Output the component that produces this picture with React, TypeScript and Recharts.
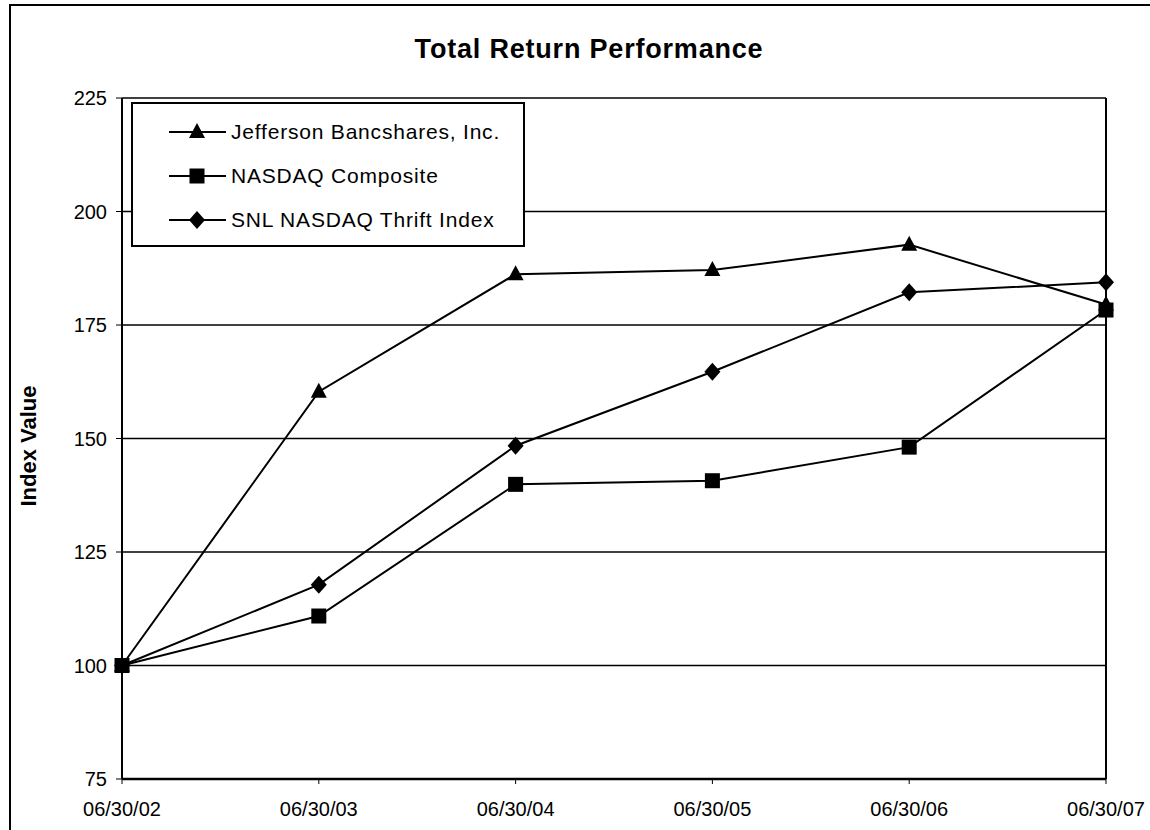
import { CartesianGrid, Line, LineChart, ReferenceLine, XAxis, YAxis } from "recharts";

const dates = ["06/30/02", "06/30/03", "06/30/04", "06/30/05", "06/30/06", "06/30/07"];
const jefferson = [100, 160.3, 186.2, 187.1, 192.7, 179.5];
const nasdaq = [100, 110.9, 139.9, 140.7, 148.1, 178.3];
const snlThrift = [100, 117.8, 148.4, 164.7, 182.2, 184.4];
const yTicks = [75, 100, 125, 150, 175, 200, 225];

const seriesList = [
  { key: "jefferson", name: "Jefferson Bancshares, Inc.", shape: "triangle" },
  { key: "nasdaq", name: "NASDAQ Composite", shape: "square" },
  { key: "snl", name: "SNL NASDAQ Thrift Index", shape: "diamond" },
];

const rows = dates.map((date, i) => ({
  date,
  jefferson: jefferson[i],
  nasdaq: nasdaq[i],
  snl: snlThrift[i],
}));

const FONT = "'Liberation Sans', Arial, sans-serif";

const Marker = ({ shape, cx, cy }: { shape: string; cx: number; cy: number }) => {
  if (shape === "triangle") {
    return <polygon points={`${cx},${cy - 9} ${cx + 8},${cy + 6} ${cx - 8},${cy + 6}`} fill="#000" />;
  }
  if (shape === "square") {
    return <rect x={cx - 7.5} y={cy - 7.5} width={15} height={15} fill="#000" />;
  }
  return <polygon points={`${cx},${cy - 9} ${cx + 8},${cy} ${cx},${cy + 9} ${cx - 8},${cy}`} fill="#000" />;
};

const makeDot = (shape: string) => (props: any) => (
  <Marker key={`${shape}-${props.index}`} shape={shape} cx={props.cx} cy={props.cy} />
);

// legend drawn outside the chart so it does not eat into the plot offset
const LegendBox = () => (
  <div
    style={{
      position: "absolute",
      left: 131,
      top: 102,
      width: 390,
      height: 141,
      border: "2px solid #000",
      background: "#fff",
      fontFamily: FONT,
    }}
  >
    {seriesList.map((s, i) => (
      <div
        key={s.key}
        style={{ position: "absolute", left: 0, top: 28 + i * 44 - 15, height: 30, display: "flex", alignItems: "center" }}
      >
        <svg width={100} height={30} style={{ display: "block" }}>
          <line x1={36} x2={93} y1={15} y2={15} stroke="#000" strokeWidth={2} />
          <Marker shape={s.shape} cx={64} cy={15} />
        </svg>
        <span style={{ fontSize: 21, letterSpacing: 0.8, color: "#000", marginLeft: -2 }}>{s.name}</span>
      </div>
    ))}
  </div>
);

export default function App() {
  return (
    <div style={{ position: "absolute", left: 0, top: 0, width: 1150, height: 830, background: "#fff", overflow: "hidden" }}>
      <div
        style={{
          position: "absolute",
          left: 9,
          top: 4,
          width: 1160,
          height: 840,
          borderLeft: "2px solid #000",
          borderTop: "2px solid #000",
        }}
      />
      <div
        style={{
          position: "absolute",
          left: 289,
          width: 600,
          top: 34,
          textAlign: "center",
          fontFamily: FONT,
          fontWeight: "bold",
          fontSize: 27,
          letterSpacing: 0.8,
          color: "#000",
        }}
      >
        Total Return Performance
      </div>
      <div
        style={{
          position: "absolute",
          left: 29 - 100,
          top: 446 - 14,
          width: 200,
          height: 28,
          lineHeight: "28px",
          textAlign: "center",
          transform: "rotate(-90deg)",
          fontFamily: FONT,
          fontWeight: "bold",
          fontSize: 22,
          color: "#000",
        }}
      >
        Index Value
      </div>
      <LineChart
        width={1150}
        height={830}
        data={rows}
        margin={{ top: 98, right: 44, bottom: 0, left: 0 }}
        style={{ position: "absolute", left: 0, top: 0 }}
      >
        <CartesianGrid vertical={false} stroke="#000" strokeWidth={1.5} />
        <XAxis
          dataKey="date"
          scale="point"
          padding={{ left: 0, right: 0 }}
          stroke="#000"
          strokeWidth={2.5}
          tickSize={5}
          tickMargin={18}
          tick={{ fill: "#000", fontSize: 20, fontFamily: FONT }}
          tickLine={{ stroke: "#000", strokeWidth: 1 }}
          height={51}
        />
        <YAxis
          domain={[75, 225]}
          ticks={yTicks}
          width={122}
          stroke="#000"
          strokeWidth={2}
          tickSize={6}
          tickMargin={9}
          tick={{ fill: "#000", fontSize: 20, fontFamily: FONT }}
          tickLine={{ stroke: "#000", strokeWidth: 1 }}
          allowDataOverflow
        />
        <ReferenceLine x={dates[dates.length - 1]} stroke="#000" strokeWidth={2} />
        {seriesList.map((s) => (
          <Line
            key={s.key}
            dataKey={s.key}
            name={s.name}
            stroke="#000"
            strokeWidth={2}
            dot={makeDot(s.shape)}
            activeDot={false}
            isAnimationActive={false}
          />
        ))}
      </LineChart>
      <LegendBox />
    </div>
  );
}
